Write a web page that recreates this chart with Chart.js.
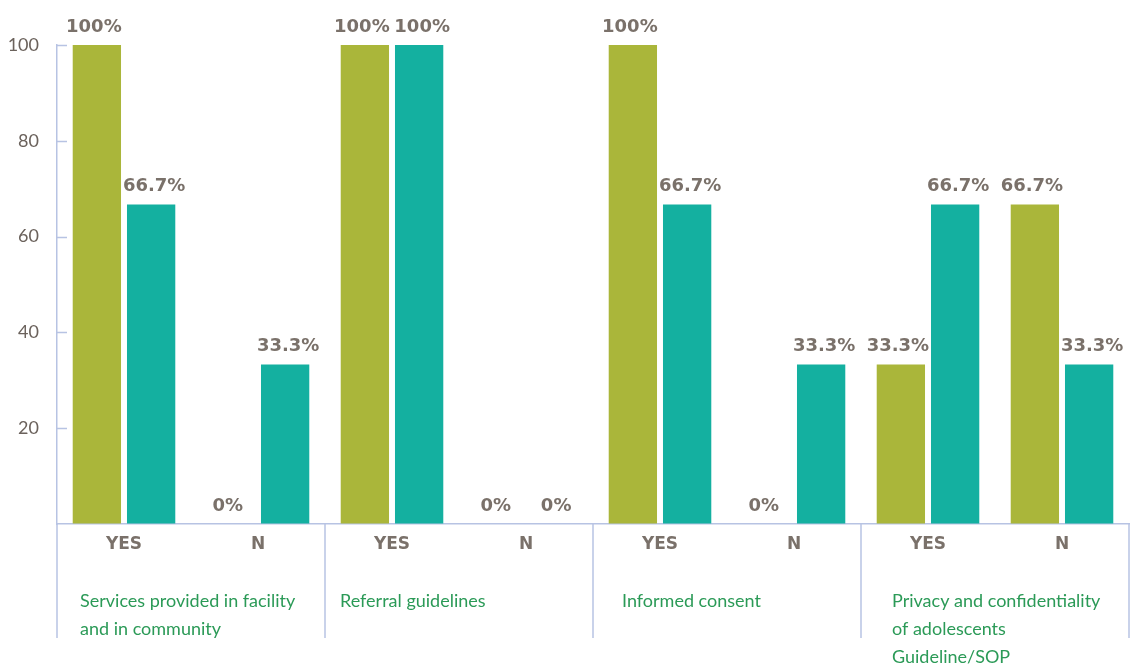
<!DOCTYPE html>
<html>
<head>
<meta charset="utf-8">
<title>Adolescent services</title>
<script src="https://cdn.jsdelivr.net/npm/chart.js@4.4.0/dist/chart.umd.min.js"></script>
<style>
  html, body { margin: 0; padding: 0; background: #fff; }
  #wrap { width: 1136px; height: 668px; }
</style>
</head>
<body>
<div id="wrap"><canvas id="bar_chart"></canvas></div>
<script>
// answers per indicator, two bars per answer
const categories = ['YES', 'N', 'YES', 'N', 'YES', 'N', 'YES', 'N'];
const groups = [
  ['Services provided in facility', 'and in community'],
  ['Referral guidelines'],
  ['Informed consent'],
  ['Privacy and confidentiality', 'of adolescents', 'Guideline/SOP']
];
const firstSeries  = [100, 0, 100, 0, 100, 0, 33.3, 66.7];
const secondSeries = [66.7, 33.3, 100, 0, 66.7, 33.3, 66.7, 33.3];
const yTicks = [20, 40, 60, 80, 100];

const axisColor = '#b7c3e3';
const labelGray = '#7a716a';
const groupGreen = '#2b9a57';
const groupIndent = [23, 15, 29, 31];

function line(ctx, x1, y1, x2, y2) {
  ctx.beginPath();
  ctx.moveTo(x1, y1);
  ctx.lineTo(x2, y2);
  ctx.stroke();
}

// percentage on top of every bar; side by side labels are nudged apart a little
const valueLabels = {
  id: 'valueLabels',
  afterDatasetsDraw(chart) {
    const ctx = chart.ctx;
    ctx.save();
    ctx.font = 'bold 18px "DejaVu Sans"';
    ctx.fillStyle = labelGray;
    ctx.textAlign = 'center';
    ctx.textBaseline = 'middle';
    chart.data.datasets.forEach((ds, i) => {
      const nudge = i === 0 ? -3 : 3;
      chart.getDatasetMeta(i).data.forEach((bar, j) => {
        ctx.fillText(ds.data[j] + '%', bar.x + nudge, bar.y - 18);
      });
    });
    ctx.restore();
  }
};

// inner tick marks, group separators and group names under the axis
const groupLabels = {
  id: 'groupLabels',
  afterDraw(chart) {
    const ctx = chart.ctx;
    const x = chart.scales.x;
    const y = chart.scales.y;
    const bottom = y.getPixelForValue(0);
    const step = x.getPixelForValue(1) - x.getPixelForValue(0);

    ctx.save();
    ctx.strokeStyle = axisColor;
    ctx.lineWidth = 1.5;
    yTicks.forEach(v => {
      const py = Math.round(y.getPixelForValue(v)) + 0.5;
      line(ctx, x.left, py, x.left + 10, py);
    });
    for (let g = 0; g <= groups.length; g++) {
      const px = x.getPixelForValue(g * 2) - step / 2;
      line(ctx, px, bottom, px, bottom + 114);
    }

    ctx.font = '18px Lato';
    ctx.fillStyle = groupGreen;
    ctx.textAlign = 'left';
    ctx.textBaseline = 'middle';
    groups.forEach((lines, g) => {
      const px = x.getPixelForValue(g * 2) - step / 2 + groupIndent[g];
      lines.forEach((t, k) => ctx.fillText(t, px, bottom + 77 + k * 28));
    });
    ctx.restore();
  }
};

const ctx = document.getElementById('bar_chart');

new Chart(ctx, {
  type: 'bar',
  data: {
    labels: categories,
    datasets: [
      {
        label: 'A',
        data: firstSeries,
        backgroundColor: '#aab63a',
        categoryPercentage: 0.81,
        barPercentage: 0.89
      },
      {
        label: 'B',
        data: secondSeries,
        backgroundColor: '#14b0a0',
        categoryPercentage: 0.81,
        barPercentage: 0.89
      }
    ]
  },
  options: {
    responsive: true,
    maintainAspectRatio: false,
    animation: false,
    layout: { padding: { top: 45, right: 7, left: 0, bottom: 0 } },
    plugins: {
      legend: { display: false },
      tooltip: { enabled: false }
    },
    scales: {
      x: {
        grid: { display: false, drawTicks: false },
        border: { display: true, color: axisColor, width: 1.5 },
        ticks: {
          color: labelGray,
          font: { family: '"DejaVu Sans"', size: 17, weight: 'bold' },
          padding: 10,
          maxRotation: 0
        },
        afterFit(scale) { scale.height = 144; }
      },
      y: {
        min: 0,
        max: 100,
        grid: { drawOnChartArea: false, drawTicks: false },
        border: { display: true, color: axisColor, width: 1.5 },
        ticks: {
          stepSize: 20,
          color: '#6b625c',
          font: { family: 'Lato', size: 18 },
          padding: 18,
          callback: function(value) {
            return value === 0 ? '' : value;
          }
        },
        afterFit(scale) { scale.width = 57; }
      }
    }
  },
  plugins: [valueLabels, groupLabels]
});
</script>
</body>
</html>
